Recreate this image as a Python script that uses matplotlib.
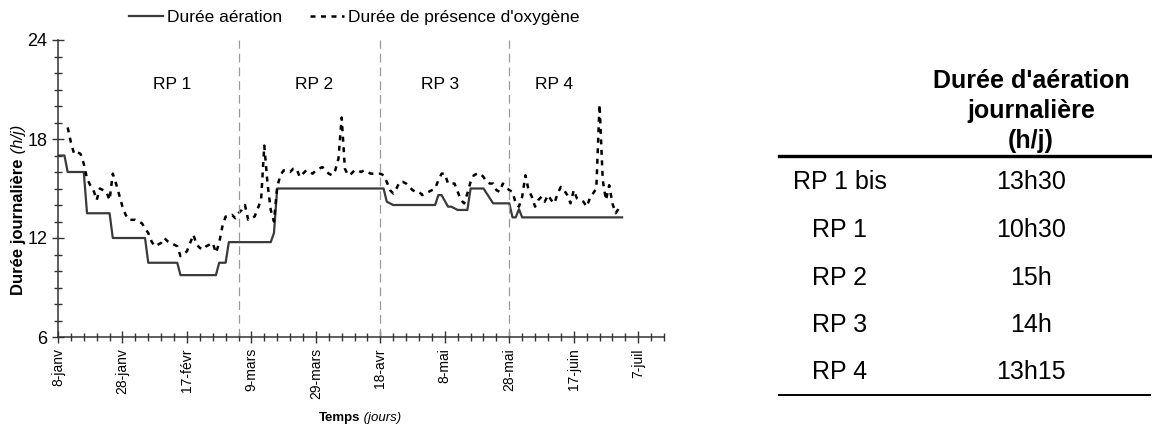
import matplotlib
matplotlib.use('Agg')
import matplotlib.pyplot as plt
from matplotlib.lines import Line2D

plt.rcParams['font.family'] = ['Liberation Sans', 'DejaVu Sans']

# days counted from 8 January
tick_days = [0, 20, 40, 60, 80, 100, 120, 140, 160, 180]
tick_labels = ['8-janv', '28-janv', '17-févr', '9-mars', '29-mars',
               '18-avr', '8-mai', '28-mai', '17-juin', '7-juil']

# daily aeration time (h/day), change points of the setpoint
aer_days = [0, 2, 3, 8, 9, 16, 17, 27, 28, 37, 38, 49, 50, 52, 53, 66, 67, 68,
            101, 102, 104, 117, 118, 119, 121, 122, 124, 127, 128, 132, 135,
            140, 141, 142, 143, 144, 175]
aer_vals = [17, 17, 16, 16, 13.5, 13.5, 12, 12, 10.5, 10.5, 9.75, 9.75, 10.5,
            10.5, 11.75, 11.75, 12.3, 15, 15, 14.2, 14, 14, 14.6, 14.6, 13.9,
            13.9, 13.7, 13.7, 15, 15, 14.1, 14.1, 13.25, 13.25, 13.75, 13.25,
            13.25]

# daily oxygen presence time (h/day), days 3 to 174
ox_days = list(range(3, 175))
ox_vals = [18.7, 17.8, 17.1, 17.2, 17.1, 16.5, 15.6, 15.2, 14.9, 14.3,
           15.0, 14.9, 14.8, 14.3, 15.9, 15.3, 14.6, 13.9, 13.4, 13.1,
           13.1, 13.1, 13.0, 12.9, 12.6, 12.3, 11.8, 11.5, 11.6, 11.7,
           12.0, 11.8, 11.7, 11.6, 11.5, 10.9, 11.0, 11.2, 11.7, 12.2,
           11.6, 11.4, 11.3, 11.5, 11.6, 11.7, 11.1, 11.7, 12.7, 13.3,
           13.3, 13.4, 13.2, 13.5, 13.7, 14.0, 13.1, 13.2, 13.3, 13.8,
           14.3, 17.6, 15.3, 13.7, 13.0, 15.1, 15.8, 16.1, 16.1, 16.0,
           16.2, 16.2, 15.7, 15.9, 16.1, 16.0, 15.9, 16.1, 16.2, 16.3,
           16.1, 15.9, 15.8, 16.1, 16.8, 19.3, 16.2, 15.8, 15.9, 16.1,
           16.1, 16.0, 16.1, 16.0, 15.9, 15.9, 15.9, 15.9, 15.8, 15.4,
           14.9, 14.7, 15.0, 15.4, 15.4, 15.3, 15.1, 14.9, 14.8, 14.8,
           14.6, 14.7, 14.8, 14.9, 15.0, 15.5, 15.9, 15.9, 15.3, 15.3,
           15.3, 14.8, 14.3, 14.1, 14.7, 15.4, 15.8, 15.9, 15.9, 15.7,
           15.4, 15.3, 15.3, 14.9, 14.8, 15.3, 15.1, 14.9, 14.8, 14.1,
           13.9, 14.5, 15.8, 14.9, 14.5, 13.9, 14.3, 14.5, 14.2, 14.6,
           14.3, 14.1, 14.7, 15.1, 14.9, 14.6, 14.1, 14.9, 14.4, 14.3,
           14.2, 13.9, 14.4, 14.7, 15.0, 20.1, 15.5, 14.3, 15.2, 14.1,
           13.5, 13.8]

# run periods
period_names = ['RP 1', 'RP 2', 'RP 3', 'RP 4']
period_bounds = [56, 100, 140]
period_label_days = [35.5, 79.5, 118.5, 154]

# setpoint table
table_rows = ['RP 1 bis', 'RP 1', 'RP 2', 'RP 3', 'RP 4']
table_vals = ['13h30', '10h30', '15h', '14h', '13h15']
table_head = "Durée d'aération\njournalière\n(h/j)"

fig = plt.figure(figsize=(11.52, 4.28), dpi=100)
W, H = 1152, 428
ax = fig.add_axes([58 / W, 91 / H, 606 / W, 297 / H])

ax.plot(aer_days, aer_vals, color='#3a3a3a', lw=1.6, label='Durée aération')
ax.plot(ox_days, ox_vals, color='black', lw=1.8, ls=(0, (2.0, 2.2)),
        label="Durée de présence d'oxygène")

for d in period_bounds:
    ax.axvline(d, color='#9a9a9a', lw=0.9, ls=(0, (7, 4)))
for name, d in zip(period_names, period_label_days):
    ax.text(d, 21.3, name, ha='center', va='center', fontsize=12.5)

ax.set_xlim(0, 188)
ax.set_ylim(6, 24)
ax.set_xticks(tick_days)
ax.set_xticklabels(tick_labels, rotation=90, fontsize=10)
ax.set_xticks(range(0, 189, 4), minor=True)
ax.set_yticks([6, 12, 18, 24])
ax.set_yticklabels(['6', '12', '18', '24'], fontsize=13)
ax.set_yticks(range(6, 25), minor=True)
ax.tick_params(which='major', direction='inout', length=9, width=1, color='#333333')
ax.tick_params(which='minor', direction='inout', length=6, width=1, color='#333333')
ax.tick_params(axis='y', which='major', pad=3)
for s in ['top', 'right']:
    ax.spines[s].set_visible(False)
for s in ['left', 'bottom']:
    ax.spines[s].set_linewidth(1.1)
    ax.spines[s].set_color('#333333')

fig.legend(loc='upper center', bbox_to_anchor=(354 / W, 0.993), ncol=2,
           frameon=False, fontsize=12.5, handlelength=2.0, handletextpad=0.2,
           columnspacing=1.6, borderaxespad=0.0)


def split_label(x, y, bold, italic, rotation=0, size=9):
    r = fig.canvas.get_renderer()
    kw = dict(fontsize=size, rotation=rotation, ha='left', va='baseline',
              rotation_mode='anchor')
    t1 = fig.text(x, y, bold, fontweight='bold', **kw)
    t2 = fig.text(x, y, ' ' + italic, fontstyle='italic', **kw)
    e1 = t1.get_window_extent(r)
    e2 = t2.get_window_extent(r)
    if rotation == 0:
        total = (e1.width + e2.width) / W
        t1.set_x(x - total / 2)
        t2.set_x(x - total / 2 + e1.width / W)
    else:
        total = (e1.height + e2.height) / H
        t1.set_y(y - total / 2)
        t2.set_y(y - total / 2 + e1.height / H)


split_label(360 / W, 1 - 421 / H, 'Temps', '(jours)', size=9.5)
split_label(23 / W, 1 - 210 / H, 'Durée journalière', '(h/j)', rotation=90, size=12)

# table on the right
x_lab, x_val = 840 / W, 1031 / W
fig.text(x_val, 1 - 111 / H, table_head, ha='center', va='center',
         fontsize=18, fontweight='bold', linespacing=1.3)
fig.add_artist(Line2D([779 / W, 1150 / W], [1 - 156 / H] * 2, color='black', lw=2.4))
row_y = [182, 230, 278, 325, 372]
for name, val, yy in zip(table_rows, table_vals, row_y):
    fig.text(x_lab, 1 - yy / H, name, ha='center', va='center', fontsize=18)
    fig.text(x_val, 1 - yy / H, val, ha='center', va='center', fontsize=18)
fig.add_artist(Line2D([779 / W, 1150 / W], [1 - 395 / H] * 2, color='black', lw=1.4))

fig.savefig('out.png', dpi=100)
